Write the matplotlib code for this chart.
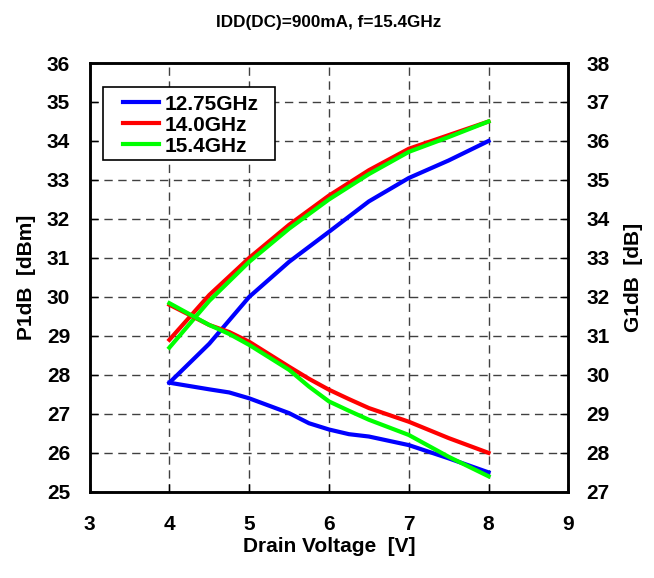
import matplotlib
matplotlib.use('Agg')
import matplotlib.pyplot as plt
from matplotlib.patches import Rectangle

plt.rcParams['font.family'] = ['Liberation Sans', 'DejaVu Sans']
plt.rcParams['font.weight'] = 'bold'

volts = [4, 4.5, 5, 5.5, 6, 6.5, 7, 7.5, 8]

# P1dB [dBm], left axis
p1_1275 = [27.8, 28.8, 30.0, 30.9, 31.67, 32.45, 33.05, 33.5, 34.0]
p1_140 = [28.9, 30.05, 31.0, 31.85, 32.6, 33.25, 33.8, 34.15, 34.5]
p1_154 = [28.7, 29.9, 30.9, 31.75, 32.5, 33.15, 33.72, 34.1, 34.5]

# G1dB [dB], right axis
g_volts = [4, 4.5, 4.75, 5, 5.5, 5.75, 6, 6.25, 6.5, 7, 7.5, 8]
g1_1275 = [29.8, 29.63, 29.55, 29.4, 29.02, 28.76, 28.6, 28.48, 28.42, 28.2, 27.86, 27.5]
g1_140 = [31.8, 31.28, 31.1, 30.85, 30.21, 29.9, 29.62, 29.38, 29.15, 28.8, 28.38, 28.0]
g1_154 = [31.84, 31.28, 31.05, 30.77, 30.13, 29.7, 29.32, 29.08, 28.85, 28.46, 27.9, 27.4]

labels = ['12.75GHz', '14.0GHz', '15.4GHz']
colors = ['#0000ff', '#ff0000', '#00ff00']

fig = plt.figure(figsize=(6.54, 5.78), dpi=100)
ax = fig.add_axes([0.137, 0.149, 0.732, 0.742])
ax2 = ax.twinx()

for y, c, lab in zip([p1_1275, p1_140, p1_154], colors, labels):
    ax.plot(volts, y, color=c, lw=3, label=lab)
for y, c in zip([g1_1275, g1_140, g1_154], colors):
    ax2.plot(g_volts, y, color=c, lw=3)

ax.set_xlim(3, 9)
ax.set_ylim(25, 36)
ax2.set_ylim(27, 38)
ax.set_xticks(range(3, 10))
ax.set_yticks(range(25, 37))
ax2.set_yticks(range(27, 39))

ax.grid(True, color='#404040', linestyle=(0, (6, 4)), lw=1)
ax.set_axisbelow(True)

for a in (ax, ax2):
    a.tick_params(direction='in', length=6, width=1, labelsize=15)
    for s in a.spines.values():
        s.set_linewidth(1.8)
ax.tick_params(axis='x', pad=17)
ax.tick_params(axis='y', pad=14)
ax2.tick_params(axis='y', pad=13)

ax.set_xlabel('Drain Voltage  [V]', fontsize=15, fontweight='bold', labelpad=2)
ax.set_ylabel('P1dB  [dBm]', fontsize=15, fontweight='bold', labelpad=8)
ax2.set_ylabel('G1dB  [dB]', fontsize=15, fontweight='bold', labelpad=10)
ax.set_title('IDD(DC)=900mA, f=15.4GHz', fontsize=12.3, fontweight='bold', pad=26)

# legend box drawn separately so it can be wider than the text
box = Rectangle((0.028, 0.774), 0.36, 0.17, transform=ax.transAxes,
                facecolor='white', edgecolor='black', lw=1.2, zorder=4)
ax2.add_patch(box)
leg = ax2.legend(*ax.get_legend_handles_labels(), loc='upper left',
                 bbox_to_anchor=(0.061, 0.936), fontsize=15,
                 handlelength=1.75, handletextpad=0.25, labelspacing=0.1,
                 borderpad=0.2, borderaxespad=0, frameon=False)
leg.set_zorder(5)

fig.savefig('out.png', dpi=100)
